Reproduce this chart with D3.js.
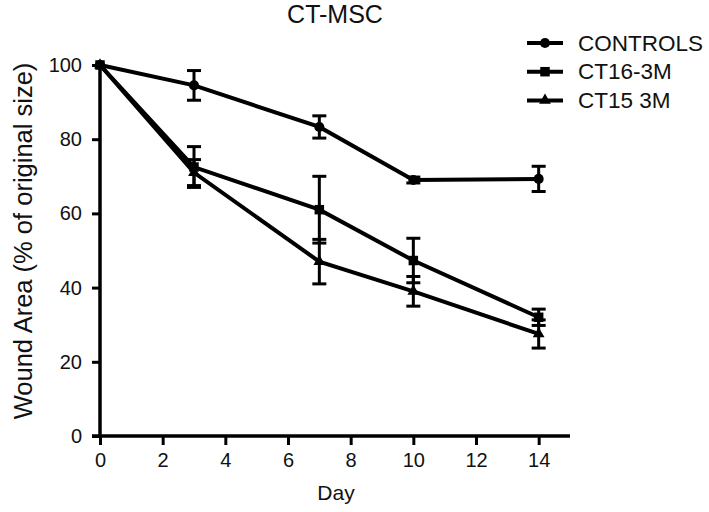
<!DOCTYPE html>
<html><head><meta charset="utf-8">
<script src="https://cdn.jsdelivr.net/npm/d3@7"></script>
<style>body{margin:0;background:#fff}svg{display:block}text{font-family:"Liberation Sans",Arial,sans-serif;fill:#111}</style>
</head><body><svg id="c" width="709" height="512"></svg>
<script>
const days = [0, 3, 7, 10, 14];
const seriesNames = ["CONTROLS", "CT16-3M", "CT15 3M"];
const controls = [100, 94.5, 83.3, 69, 69.3];
const controlsErr = [0, 4, 3, 0.8, 3.4];
const ct16 = [100, 72.5, 61, 47.3, 32];
const ct16Err = [0, 5.5, 9, 6, 2.2];
const ct15 = [100, 71, 47, 39, 27.5];
const ct15Err = [0, 3.5, 6, 4, 3.8];
const xTicks = [0, 2, 4, 6, 8, 10, 12, 14];
const yTicks = [0, 20, 40, 60, 80, 100];
const symbols = [d3.symbolCircle, d3.symbolSquare, d3.symbolTriangle];

const svg = d3.select("#c");
const x = d3.scaleLinear().domain([0, 15]).range([100, 570]);
const y = d3.scaleLinear().domain([0, 100]).range([436, 65]);

const series = [
  {name: seriesNames[0], v: controls, e: controlsErr, s: symbols[0], size: 80},
  {name: seriesNames[1], v: ct16, e: ct16Err, s: symbols[1], size: 90},
  {name: seriesNames[2], v: ct15, e: ct15Err, s: symbols[2], size: 60}
];

// axes
const xAxis = svg.append("g").attr("transform", "translate(0,436)")
  .call(d3.axisBottom(x).tickValues(xTicks).tickSize(9).tickPadding(8).tickSizeOuter(0));
const yAxis = svg.append("g").attr("transform", "translate(100,0)")
  .call(d3.axisLeft(y).tickValues(yTicks).tickSize(8).tickPadding(10).tickSizeOuter(0));
[xAxis, yAxis].forEach(a => {
  a.select(".domain").attr("stroke", "#000").attr("stroke-width", 3.5);
  a.selectAll(".tick line").attr("stroke", "#000").attr("stroke-width", 3);
  a.selectAll(".tick text").attr("font-size", 20).attr("fill", "#111")
    .attr("font-family", "Liberation Sans, Arial, sans-serif");
});
xAxis.select(".domain").attr("d", `M${92},0H${x(15)}`);
yAxis.select(".domain").attr("d", `M0,${y(100) - 1}V${y(0) + 2}`);

// lines, error bars, markers
const line = d3.line().x((d, i) => x(days[i])).y(d => y(d));
series.forEach(s => {
  svg.append("path").datum(s.v).attr("d", line)
    .attr("fill", "none").attr("stroke", "#000").attr("stroke-width", 4);
  const g = svg.append("g");
  s.v.forEach((v, i) => {
    if (s.e[i] > 0) {
      const cx = x(days[i]);
      const t = y(v + s.e[i]), b = y(v - s.e[i]);
      g.append("line").attr("x1", cx).attr("x2", cx).attr("y1", t).attr("y2", b)
        .attr("stroke", "#000").attr("stroke-width", 3);
      [t, b].forEach(yy => g.append("line").attr("x1", cx - 7).attr("x2", cx + 7)
        .attr("y1", yy).attr("y2", yy).attr("stroke", "#000").attr("stroke-width", 3));
    }
    g.append("path").attr("d", d3.symbol().type(s.s).size(s.size)())
      .attr("transform", `translate(${x(days[i])},${y(v)})`).attr("fill", "#000");
  });
});

// title & axis labels
svg.append("text").attr("x", 335).attr("y", 22.5).attr("text-anchor", "middle")
  .attr("font-size", 25).text("CT-MSC");
svg.append("text").attr("x", 336).attr("y", 500).attr("text-anchor", "middle")
  .attr("font-size", 21).text("Day");
svg.append("text").attr("transform", "translate(32,241) rotate(-90)")
  .attr("text-anchor", "middle").attr("font-size", 25.5).text("Wound Area (% of original size)");

// legend
const leg = svg.append("g");
series.forEach((s, i) => {
  const ly = 43 + i * 28.7;
  leg.append("line").attr("x1", 527).attr("x2", 563).attr("y1", ly).attr("y2", ly)
    .attr("stroke", "#000").attr("stroke-width", 4);
  leg.append("path").attr("d", d3.symbol().type(s.s).size(s.size)())
    .attr("transform", `translate(545,${ly})`).attr("fill", "#000");
  leg.append("text").attr("x", 578).attr("y", ly + 7.5).attr("font-size", 22.5).text(s.name);
});
</script></body></html>
